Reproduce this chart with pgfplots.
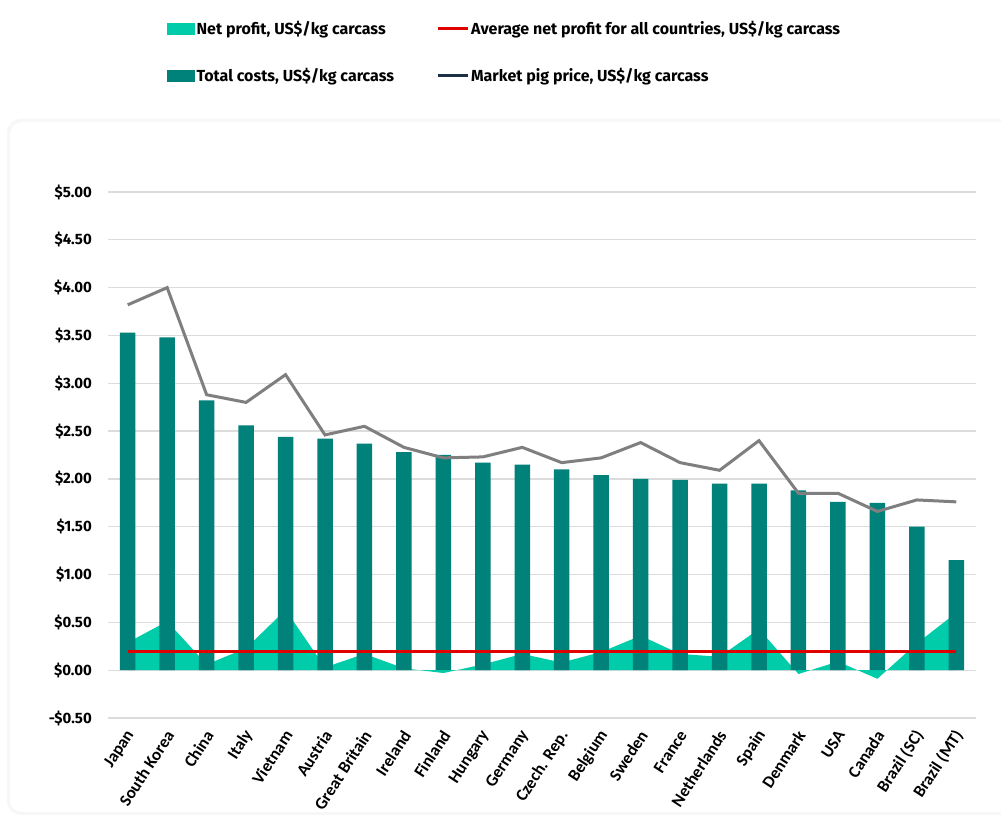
\documentclass[border=0pt]{standalone}
\usepackage{pgfplots}
\pgfplotsset{compat=1.18}
\usepackage{fontspec}
\setmainfont{Carlito}
\newfontfamily\legfont{Fira Sans}
\definecolor{turq}{HTML}{00CCAA}
\definecolor{tealbar}{HTML}{00827A}
\definecolor{avgred}{HTML}{E00000}
\definecolor{pricegray}{HTML}{7F7F7F}
\definecolor{navy}{HTML}{1B2F45}
\definecolor{gridgray}{HTML}{DCDCDC}
\begin{document}
\begin{tikzpicture}
\path[use as bounding box] (0bp,0bp) rectangle (1001bp,818bp);
\fill[white] (0bp,0bp) rectangle (1001bp,818bp);
\fill[black!3, rounded corners=14bp] (7bp,3bp) rectangle (1030bp,699bp);
\fill[white, rounded corners=12bp] (10bp,6bp) rectangle (1030bp,696bp);
\begin{axis}[
  at={(108bp,100bp)}, anchor=south west,
  scale only axis, width=868bp, height=526bp,
  xmin=-0.5, xmax=21.5, ymin=-0.5, ymax=5,
  axis line style={draw=none},
  major tick length=0pt,
  ymajorgrids, grid style={line width=1.3bp, color=gridgray},
  ytick={-0.5,0,0.5,1,1.5,2,2.5,3,3.5,4,4.5,5},
  yticklabels={-\$0.50,\$0.00,\$0.50,\$1.00,\$1.50,\$2.00,\$2.50,\$3.00,\$3.50,\$4.00,\$4.50,\$5.00},
  yticklabel style={font=\legfont\bfseries\fontsize{15bp}{17bp}\selectfont, inner sep=0pt, xshift=-16bp},
  xtick={0,...,21},
  xticklabels={Japan,South Korea,China,Italy,Vietnam,Austria,Great Britain,Ireland,Finland,Hungary,Germany,Czech. Rep.,Belgium,Sweden,France,Netherlands,Spain,Denmark,USA,Canada,Brazil (SC),Brazil (MT)},
  xticklabel style={font=\bfseries\fontsize{17bp}{19bp}\selectfont, xshift=3bp, yshift=-14bp, rotate=57, anchor=east, inner sep=0pt},
  legend columns=2,
  legend cell align=left,
  legend style={at={(0.068,1.329)}, anchor=north west, draw=none, fill=none,
    font=\legfont\bfseries\fontsize{16bp}{19bp}\selectfont,
    /tikz/every even column/.append style={column sep=40bp},
    row sep=28bp, inner sep=0pt},
]
\addplot[fill=turq, draw=none, forget plot] coordinates {
(0,0.29) (1,0.51) (2,0.06) (3,0.23) (4,0.63) (5,0.03) (6,0.17) (7,0.02) (8,-0.03) (9,0.06) (10,0.17)
(11,0.08) (12,0.19) (13,0.36) (14,0.17) (15,0.14) (16,0.43) (17,-0.04) (18,0.09) (19,-0.09) (20,0.28) (21,0.60)
} \closedcycle;
\addplot[ybar, bar width=15.5bp, fill=tealbar, draw=none, forget plot] coordinates {
(0,3.53) (1,3.48) (2,2.82) (3,2.56) (4,2.44) (5,2.42) (6,2.37) (7,2.28) (8,2.25) (9,2.17) (10,2.15)
(11,2.10) (12,2.04) (13,2.00) (14,1.99) (15,1.95) (16,1.95) (17,1.88) (18,1.76) (19,1.75) (20,1.50) (21,1.15)
};
\addplot[color=avgred, line width=3bp, forget plot] coordinates {(0,0.2) (21,0.2)};
\addplot[color=pricegray, line width=3bp, forget plot] coordinates {
(0,3.82) (1,4.00) (2,2.88) (3,2.80) (4,3.09) (5,2.46) (6,2.55) (7,2.33) (8,2.22) (9,2.23) (10,2.33)
(11,2.17) (12,2.22) (13,2.38) (14,2.17) (15,2.09) (16,2.40) (17,1.85) (18,1.85) (19,1.66) (20,1.78) (21,1.76)
};
\addlegendimage{legend image code/.code={\fill[turq] (0bp,-5.5bp) rectangle (27bp,5.5bp);}}
\addlegendentry{Net profit, US\$/kg carcass}
\addlegendimage{legend image code/.code={\draw[avgred, line width=3bp] (0bp,0bp) -- (30bp,0bp);}}
\addlegendentry{Average net profit for all countries, US\$/kg carcass}
\addlegendimage{legend image code/.code={\fill[tealbar] (0bp,-5.5bp) rectangle (27bp,5.5bp);}}
\addlegendentry{Total costs, US\$/kg carcass}
\addlegendimage{legend image code/.code={\draw[navy, line width=3bp] (0bp,0bp) -- (30bp,0bp);}}
\addlegendentry{Market pig price, US\$/kg carcass}
\end{axis}
\end{tikzpicture}
\end{document}
